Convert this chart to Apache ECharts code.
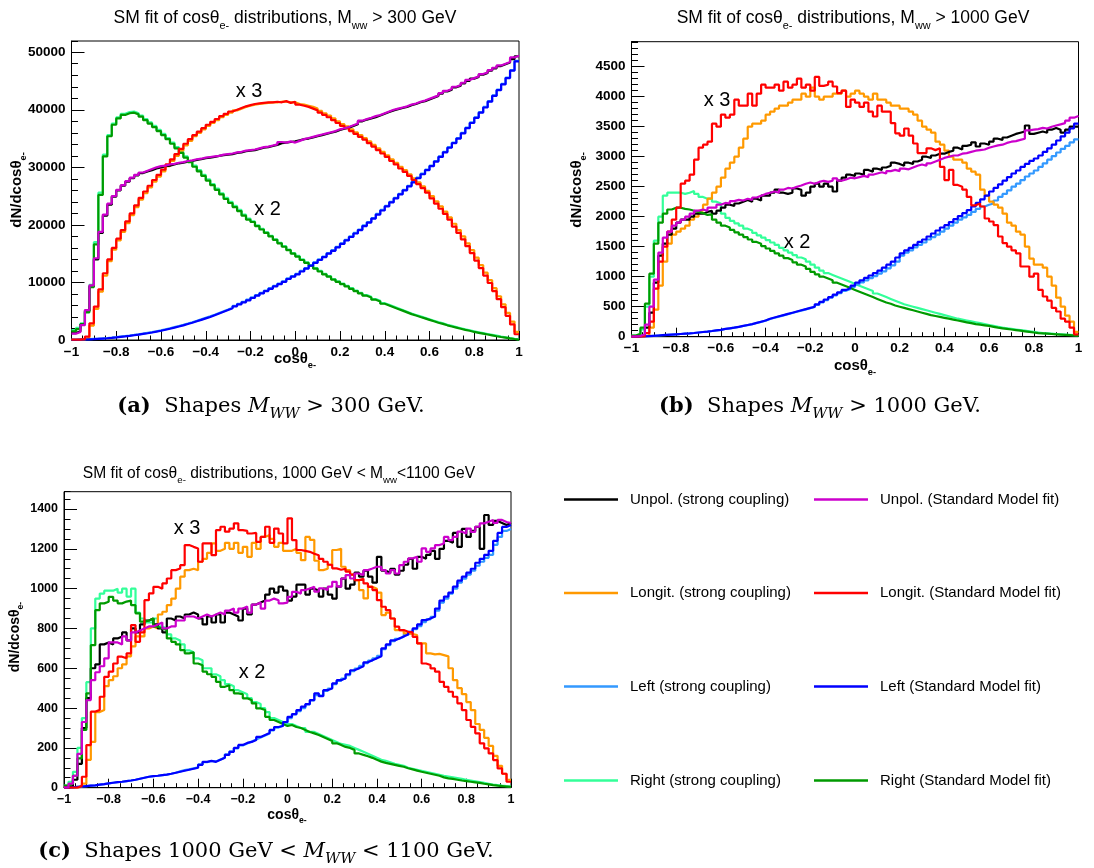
<!DOCTYPE html>
<html><head><meta charset="utf-8">
<script src="https://cdn.jsdelivr.net/npm/echarts@6/dist/echarts.min.js"></script>
<style>html,body{margin:0;padding:0;background:#fff}#c{width:1094px;height:868px}</style>
</head><body><div id="c"></div>
<script>
// ---------- bins: 100 bins of width 0.02 between -1 and 1 ----------
const binLow = -1, binWidth = 0.02;

// ---------- panel (a) M_WW > 300 GeV ----------
const a_unpol_sc = [1200,1500,2700,5100,9300,14000,18600,21600,23500,24900,26000,26800,27500,28100,28600,29000,29300,29500,29800,30000,30200,30300,30500,30700,30800,31000,31100,31300,31400,31600,31700,31800,32000,32100,32200,32300,32500,32600,32800,32900,33000,33200,33400,33500,33700,33900,34200,34300,34400,34500,34700,34900,35000,35200,35400,35600,35800,36000,36200,36500,36700,36900,37200,37500,38000,38300,38500,38700,39000,39300,39600,39900,40100,40300,40500,40800,41000,41300,41500,41800,42100,42400,42800,43200,43500,43900,44200,44600,45000,45400,45700,46100,46400,46800,47200,47600,47900,48200,48800,49300];
const a_unpol_sm = [1100,1400,2600,5200,9500,14200,18800,21800,23700,25000,26100,26900,27600,28200,28700,29100,29400,29700,30000,30200,30300,30500,30600,30800,30900,31100,31200,31400,31500,31700,31800,31900,32000,32200,32300,32400,32600,32700,32900,33000,33100,33300,33500,33600,33800,34000,34400,34300,34500,34300,34600,34900,35100,35300,35500,35700,35900,36100,36300,36600,36800,37000,37300,37600,38100,38400,38600,38900,39100,39400,39700,40000,40200,40400,40600,40900,41100,41400,41600,41900,42200,42500,42900,43300,43600,44000,44300,44700,45200,45500,45800,46200,46500,46900,47300,47700,48000,48300,49100,49400];
const a_long_sc = [30,60,100,400,2500,5400,8400,11200,13700,15700,17300,18800,20300,21700,23100,24400,25500,26500,27500,28400,29300,30200,31100,32000,32900,33800,34600,35400,36000,36600,37200,37700,38200,38700,39100,39500,39900,40200,40500,40700,40900,41000,41100,41200,41300,41300,41400,41400,41300,41300,41000,40900,40700,40500,40200,39800,39400,39000,38500,38000,37500,37100,36600,36100,35600,35100,34500,33900,33300,32700,32100,31400,30800,30100,29500,28800,28100,27400,26700,25900,25000,24100,23200,22300,21300,20200,19100,18000,16800,15600,14300,13000,11700,10400,9000,7600,6200,4700,3200,1400];
const a_long_sm = [50,80,150,600,2900,5800,8800,11600,14000,16000,17600,19100,20600,22000,23400,24700,25800,26800,27800,28700,29600,30500,31400,32300,33200,34100,34900,35600,36200,36800,37400,37900,38400,38900,39300,39700,40000,40300,40600,40800,41000,41100,41200,41300,41300,41400,41300,41500,41200,41400,40900,40700,40500,40200,39900,39500,39100,38700,38200,37700,37200,36800,36300,35800,35300,34800,34200,33600,33000,32400,31800,31100,30500,29800,29200,28500,27800,27100,26400,25600,24600,23700,22800,21900,20900,19700,18600,17500,16300,15100,13800,12500,11200,9900,8500,7100,5700,4200,2700,1000];
const a_left_sc = [60,90,130,160,200,240,290,350,420,500,600,690,780,880,990,1110,1240,1370,1520,1680,1850,2040,2230,2430,2640,2860,3090,3330,3580,3840,4100,4390,4690,4990,5290,5600,5950,6300,6650,7000,7400,7800,8200,8600,9000,9400,9800,10200,10700,11100,11500,12000,12500,13000,13500,14000,14500,15100,15600,16200,16800,17400,18000,18600,19200,19900,20500,21200,21900,22600,23300,24000,24700,25400,26100,26800,27500,28200,28900,29600,30300,31100,31900,32700,33500,34300,35100,36000,36900,37800,38700,39600,40500,41500,42500,43500,44500,45600,46900,48500];
const a_left_sm = [30,60,90,120,150,200,250,300,370,450,550,630,720,820,920,1050,1170,1300,1450,1600,1780,1960,2150,2350,2550,2780,3000,3250,3500,3750,4000,4300,4600,4900,5200,5500,5850,6200,6550,6900,7300,7700,8100,8500,8900,9300,9700,10100,10600,11000,11400,11900,12400,12900,13400,13900,14400,15000,15500,16100,16700,17300,17900,18500,19100,19800,20400,21100,21800,22500,23200,23900,24600,25300,26000,26700,27400,28100,28800,29500,30200,31000,31800,32600,33400,34200,35000,35900,36800,37700,38600,39500,40400,41400,42400,43400,44400,45500,46800,48400];
const a_right_sc = [1700,2100,2900,5000,9600,17000,25600,32200,35600,37600,38700,39300,39600,39700,39400,39000,38400,37800,37200,36500,35800,35100,34300,33500,32700,31900,31100,30300,29500,28700,27900,27100,26300,25500,24700,24000,23300,22600,21800,21100,20600,19900,19300,18700,18100,17500,16900,16300,15700,15100,14600,14000,13500,13000,12500,12000,11500,11100,10600,10200,9800,9400,9000,8600,8200,7800,7500,7100,6800,6400,6100,5800,5500,5200,4900,4600,4350,4100,3850,3600,3350,3100,2900,2650,2450,2250,2050,1850,1700,1500,1350,1200,1050,900,750,600,470,340,220,110];
const a_right_sm = [1500,1900,2700,4800,9200,16600,25200,31900,35400,37400,38500,39100,39400,39500,39200,38800,38200,37600,37000,36300,35600,34900,34100,33300,32500,31700,30900,30100,29300,28500,27700,26900,26100,25300,24500,23800,23100,22400,21600,20900,20500,19800,19200,18600,18000,17400,16800,16200,15600,15000,14500,13900,13400,12900,12400,11900,11400,11000,10500,10100,9700,9300,8900,8500,8100,7700,7400,7000,6700,6300,6000,5700,5400,5100,4800,4500,4250,4000,3750,3500,3250,3000,2800,2550,2350,2150,1950,1750,1600,1400,1250,1100,950,800,650,520,400,280,170,80];

// ---------- panel (b) M_WW > 1000 GeV ----------
const b_unpol_sc = [0,10,30,150,400,900,1350,1550,1700,1800,1900,1950,1950,2000,2050,2050,2080,2100,2050,2100,2150,2200,2180,2220,2250,2280,2250,2300,2270,2350,2350,2400,2450,2400,2380,2400,2470,2450,2350,2400,2500,2550,2500,2550,2500,2420,2600,2650,2700,2680,2720,2700,2780,2750,2800,2780,2820,2850,2900,2880,2850,2900,2880,2920,2950,3000,2980,3020,3050,3050,3080,3100,3150,3120,3180,3200,3240,3170,3220,3200,3250,3300,3280,3320,3350,3380,3400,3420,3520,3380,3400,3420,3400,3450,3480,3450,3400,3450,3500,3500];
const b_unpol_sm = [0,10,40,200,500,950,1400,1650,1750,1850,1900,1950,2000,2050,2100,2120,2100,2150,2150,2200,2230,2220,2260,2280,2270,2300,2280,2320,2350,2380,2400,2420,2400,2450,2480,2470,2500,2520,2550,2570,2550,2580,2600,2580,2600,2640,2600,2620,2650,2640,2660,2680,2660,2700,2720,2740,2720,2760,2780,2760,2800,2790,2820,2850,2870,2850,2890,2920,2950,2980,3000,3020,3020,3050,3060,3080,3100,3110,3120,3150,3170,3190,3200,3230,3250,3260,3280,3300,3440,3450,3460,3480,3470,3500,3520,3540,3560,3600,3650,3680];
const b_long_sc = [0,0,0,20,150,450,850,1250,1550,1700,1750,1800,1850,1950,2000,2100,2200,2300,2400,2500,2650,2800,2900,3000,3150,3300,3500,3550,3550,3600,3700,3750,3800,3850,3850,3900,3950,3950,4050,4000,4150,4000,3950,4000,4000,4050,4050,4100,4000,4050,4100,4050,4000,3950,4050,3950,3950,3900,3850,3850,3800,3800,3750,3700,3600,3500,3450,3400,3250,3200,3100,3000,2950,2950,2900,2800,2750,2700,2450,2350,2250,2200,2150,2050,1900,1850,1750,1700,1500,1300,1200,1200,1150,1000,850,650,500,350,250,80];
const b_long_sm = [0,0,10,60,250,800,1250,1500,1750,1950,2150,2550,2600,2700,2950,3150,3200,3250,3550,3500,3700,3650,3700,3950,3850,3850,4050,3850,4050,4200,4150,4150,4200,4100,4250,4150,4200,4300,4150,4200,4100,4330,4180,4200,4250,4170,4060,4100,3830,3950,3900,3830,3900,3750,3670,3850,3750,3750,3560,3390,3350,3470,3350,3220,3060,3060,3140,3110,3140,2830,2610,2780,2530,2500,2450,2330,2190,2220,2170,1970,1920,1860,1670,1560,1500,1440,1390,1170,1170,1000,1050,780,670,600,480,420,300,250,150,40];
const b_left_sc = [0,3,5,10,15,20,25,30,35,40,45,50,55,62,70,78,86,95,105,115,128,138,150,162,178,192,208,228,248,268,295,315,335,355,375,395,415,435,455,475,495,530,570,610,650,690,725,765,795,830,870,905,940,975,1010,1050,1090,1140,1190,1250,1350,1400,1440,1490,1530,1570,1620,1660,1700,1750,1800,1850,1900,1950,1990,2030,2080,2130,2170,2200,2220,2270,2330,2380,2440,2500,2550,2610,2670,2720,2770,2830,2890,2950,3010,3070,3130,3180,3240,3290];
const b_left_sm = [0,3,5,10,15,20,25,30,35,40,45,50,55,62,70,78,86,95,105,115,130,140,150,165,180,195,210,230,250,270,300,320,340,360,380,400,420,440,460,480,500,540,580,620,660,700,740,780,810,850,900,940,980,1020,1060,1100,1150,1200,1250,1320,1390,1440,1480,1530,1580,1620,1670,1720,1770,1820,1860,1910,1960,2010,2060,2110,2170,2230,2290,2350,2420,2480,2540,2600,2660,2720,2770,2830,2880,2930,2970,3020,3080,3140,3200,3270,3340,3400,3470,3550];
const b_right_sc = [20,40,120,500,1000,1600,2000,2350,2400,2400,2400,2380,2400,2430,2380,2330,2300,2300,2250,2220,2050,1980,1930,1890,1850,1800,1770,1730,1690,1650,1610,1570,1530,1480,1440,1400,1360,1320,1290,1250,1200,1150,1100,1060,1030,1000,970,940,910,880,850,820,790,760,720,690,660,630,600,570,540,520,500,480,460,440,420,400,380,360,340,320,300,285,270,255,240,225,210,195,180,165,150,140,130,120,110,100,90,80,70,60,55,50,45,40,35,30,25,20];
const b_right_sm = [20,50,150,550,1050,1550,1900,2050,2120,2150,2150,2130,2120,2100,2080,2060,2030,2040,1950,1900,1850,1820,1780,1740,1700,1660,1620,1580,1550,1510,1470,1430,1390,1350,1310,1280,1240,1200,1170,1130,1080,1040,1000,970,940,900,870,840,810,780,750,720,690,660,630,600,570,550,520,500,480,460,440,420,400,380,360,345,330,315,300,285,270,255,240,225,210,200,190,180,165,150,140,130,120,110,100,90,80,70,60,55,50,45,40,35,30,25,20,15];

// ---------- panel (c) 1000 GeV < M_WW < 1100 GeV ----------
const c_unpol_sc = [0,10,40,120,300,450,600,620,720,730,720,750,760,780,740,800,780,820,840,850,820,800,780,850,840,860,850,870,880,870,850,820,860,830,870,830,880,870,860,840,900,870,920,930,940,970,1000,980,1010,990,940,960,1020,1020,970,1000,990,960,1000,970,950,1010,1050,1000,1020,1080,1060,1090,1060,1030,1160,1090,1080,1100,1070,1090,1120,1150,1100,1160,1150,1170,1190,1150,1200,1240,1230,1280,1210,1300,1260,1290,1310,1200,1370,1320,1340,1330,1320,1330];
const c_unpol_sm = [0,20,60,170,330,440,540,580,610,650,730,730,720,760,740,780,790,800,810,810,820,830,800,810,810,840,840,860,860,850,860,870,860,870,880,870,890,900,880,900,910,880,920,930,900,940,950,942,926,930,959,984,975,993,1001,1010,985,1001,993,1010,1034,1010,1051,1068,1051,1076,1068,1093,1101,1110,1110,1093,1076,1093,1076,1118,1135,1152,1160,1135,1202,1185,1202,1219,1227,1260,1244,1260,1286,1277,1302,1285,1311,1328,1336,1345,1330,1345,1335,1330];
const c_long_sc = [0,0,0,5,20,140,230,380,390,510,540,560,600,620,660,710,760,760,800,810,800,870,884,917,950,1000,1060,1093,1100,1093,1135,1150,1180,1227,1190,1200,1230,1200,1230,1180,1210,1160,1230,1200,1260,1270,1250,1210,1230,1190,1190,1200,1180,1143,1260,1245,1140,1093,1100,1120,1194,1200,1110,1093,1070,1043,993,951,1010,1000,980,867,880,850,792,790,775,772,767,725,725,675,670,672,666,660,600,540,500,470,430,390,320,290,250,210,160,110,70,40];
const c_long_sm = [0,0,0,10,55,214,382,390,457,557,583,624,658,650,675,817,733,780,942,976,1009,1000,1026,1051,1093,1101,1118,1219,1210,1202,1135,1227,1227,1168,1294,1311,1286,1302,1328,1294,1290,1277,1280,1235,1260,1311,1230,1302,1277,1227,1353,1244,1194,1190,1185,1175,1168,1150,1135,1120,1102,1095,1100,1085,1070,1043,1050,1026,1009,993,942,909,892,850,809,792,783,780,758,725,624,616,599,583,532,507,482,457,424,390,340,306,273,223,198,172,139,97,70,30];
const c_left_sc = [0,2,4,6,8,10,12,15,18,22,25,28,30,33,36,40,45,50,55,58,60,63,66,70,75,82,88,92,97,102,117,128,134,132,142,152,168,182,198,212,222,232,242,252,262,272,288,302,312,328,350,368,385,400,418,438,465,462,486,498,520,536,548,566,586,598,612,626,638,650,662,696,716,736,748,758,770,780,796,812,832,846,858,890,930,950,975,1000,1030,1050,1070,1090,1115,1135,1155,1170,1220,1260,1290,1300];
const c_left_sm = [0,2,4,6,8,10,12,15,18,22,25,28,30,33,36,40,45,50,55,58,60,63,66,70,75,80,85,90,95,100,115,130,135,130,140,150,165,180,200,215,225,230,240,255,265,275,290,305,310,330,356,370,390,407,420,440,474,460,490,500,524,540,550,570,590,600,610,630,640,650,660,700,720,740,750,760,770,783,800,820,842,850,860,900,940,960,980,1010,1040,1060,1080,1100,1130,1150,1170,1190,1240,1280,1310,1320];
const c_right_sc = [10,30,80,200,350,530,800,950,975,990,990,1000,980,1000,960,1000,880,850,830,830,850,810,800,770,750,740,720,690,680,650,640,600,600,570,560,540,520,510,490,480,470,450,430,420,400,380,350,340,330,320,320,310,300,300,280,280,270,260,250,240,230,220,215,210,200,190,180,170,160,150,140,135,128,120,115,110,100,95,90,85,80,75,70,65,60,56,52,48,44,40,36,32,28,24,20,16,13,10,8,5];
const c_right_sm = [10,20,60,147,290,474,716,892,926,934,959,940,926,935,940,917,876,834,840,850,809,800,792,750,733,720,691,675,680,624,615,583,570,557,532,507,515,490,474,470,449,440,424,398,390,356,340,330,320,310,315,305,300,290,280,273,265,255,245,235,223,215,205,200,190,172,165,158,150,140,131,125,120,115,110,105,98,92,86,80,75,70,65,60,52,47,44,40,36,33,30,27,24,20,17,13,10,8,6,4];

// ---------- presentation ----------
const seriesDefs = [
  {key:'right_sc', name:'Right (strong coupling)', color:'#33ff99'},
  {key:'left_sc',  name:'Left (strong coupling)',  color:'#3399ff'},
  {key:'long_sc',  name:'Longit. (strong coupling)', color:'#ff9900'},
  {key:'unpol_sc', name:'Unpol. (strong coupling)', color:'#000000'},
  {key:'right_sm', name:'Right (Standard Model fit)', color:'#009a00'},
  {key:'left_sm',  name:'Left (Standard Model fit)',  color:'#0000ff'},
  {key:'long_sm',  name:'Longit. (Standard Model fit)', color:'#ff0000'},
  {key:'unpol_sm', name:'Unpol. (Standard Model fit)', color:'#cc00cc'}
];
const panelData = [
  {right_sc:a_right_sc,left_sc:a_left_sc,long_sc:a_long_sc,unpol_sc:a_unpol_sc,right_sm:a_right_sm,left_sm:a_left_sm,long_sm:a_long_sm,unpol_sm:a_unpol_sm},
  {right_sc:b_right_sc,left_sc:b_left_sc,long_sc:b_long_sc,unpol_sc:b_unpol_sc,right_sm:b_right_sm,left_sm:b_left_sm,long_sm:b_long_sm,unpol_sm:b_unpol_sm},
  {right_sc:c_right_sc,left_sc:c_left_sc,long_sc:c_long_sc,unpol_sc:c_unpol_sc,right_sm:c_right_sm,left_sm:c_left_sm,long_sm:c_long_sm,unpol_sm:c_unpol_sm}
];
const panels = [
  {left:71.5, top:41,   width:447.5, height:299, ymax:51950, major:10000, minor:2000, font:13.5},
  {left:631.5,top:41.7, width:447,   height:295, ymax:4917,  major:500,   minor:100,  font:13.5},
  {left:64,   top:491.7,width:447,   height:296, ymax:1487,  major:200,   minor:50,   font:12.5}
];
const SANS = 'Liberation Sans', SERIF = 'DejaVu Serif';

function steps(arr){
  const pts = arr.map((v,i)=>[binLow + i*binWidth, v]);
  pts.push([binLow + arr.length*binWidth, arr[arr.length-1]]);
  return pts;
}
const grid=[], xAxis=[], yAxis=[], series=[];
panels.forEach((p,k)=>{
  grid.push({left:p.left, top:p.top, width:p.width, height:p.height, show:true, borderColor:'#000', borderWidth:1, backgroundColor:'transparent', containLabel:false});
  xAxis.push({gridIndex:k, type:'value', min:-1, max:1, interval:0.2,
    axisLine:{show:true, onZero:false, lineStyle:{color:'#000', width:1}},
    axisTick:{show:true, inside:true, length:9, lineStyle:{color:'#000', width:1}},
    minorTick:{show:true, splitNumber:4, length:4.5, lineStyle:{color:'#000', width:1}},
    splitLine:{show:false}, minorSplitLine:{show:false},
    axisLabel:{show:true, showMinLabel:true, showMaxLabel:true, margin:5, color:'#000', fontFamily:SANS, fontWeight:'bold', fontSize:p.font,
      formatter:v=>{const r=Math.round(v*10)/10; return r<0 ? '\u2212'+Math.abs(r) : String(r);}}});
  yAxis.push({gridIndex:k, type:'value', position:'left', min:0, max:p.ymax, interval:p.major,
    axisLine:{show:true, onZero:false, lineStyle:{color:'#000', width:1}},
    axisTick:{show:true, inside:true, length:13, lineStyle:{color:'#000', width:1}},
    splitLine:{show:false},
    axisLabel:{show:true, showMaxLabel:false, margin:6, color:'#000', fontFamily:SANS, fontWeight:'bold', fontSize:p.font,
      formatter:v=>String(Math.round(v))}});
  yAxis.push({gridIndex:k, type:'value', position:'left', offset:0, min:0, max:p.ymax, interval:p.minor,
    axisLine:{show:false, onZero:false}, axisLabel:{show:false}, splitLine:{show:false},
    axisTick:{show:true, inside:true, length:6.5, lineStyle:{color:'#000', width:1}}});
  seriesDefs.forEach(d=>{
    series.push({type:'line', name:d.name, xAxisIndex:k, yAxisIndex:2*k, data:steps(panelData[k][d.key]),
      step:'end', symbol:'none', showSymbol:false, silent:true, clip:true,
      lineStyle:{color:d.color, width:2.2}, itemStyle:{color:d.color}, emphasis:{disabled:true}});
  });
});

// legend: 4 rows x 2 columns
const legendRows = [501, 594.5, 688, 782];
const legendCols = [564, 814];
const legendOrder = [
  ['Unpol. (strong coupling)','Unpol. (Standard Model fit)'],
  ['Longit. (strong coupling)','Longit. (Standard Model fit)'],
  ['Left (strong coupling)','Left (Standard Model fit)'],
  ['Right (strong coupling)','Right (Standard Model fit)']
];
const legend=[];
legendOrder.forEach((row,r)=>row.forEach((nm,c)=>{
  legend.push({data:[nm], left:legendCols[c], top:legendRows[r]-9, padding:0, icon:'rect', itemWidth:54, itemHeight:2.5,
    selectedMode:false, textStyle:{fontFamily:SANS, fontSize:15, color:'#000', padding:[0,0,0,7]}});
}));

// text helpers
function sansText(x,y,text,size,weight,rot){
  return {type:'text', x:x, y:y, rotation:rot||0, silent:true, style:{text:text, fill:'#000', fontFamily:SANS, fontSize:size, fontWeight:weight||'normal',
    lineHeight:size*1.5, align:'center', verticalAlign:'middle',
    rich:{s:{fontSize:size*0.62, fontFamily:SANS, fontWeight:weight||'normal', lineHeight:size*0.62, verticalAlign:'bottom', fill:'#000'}}}};
}
function serifText(x,y,text,size){
  return {type:'text', x:x, y:y, silent:true, style:{text:text, fill:'#000', fontFamily:SERIF, fontSize:size, lineHeight:size*1.4, align:'center', verticalAlign:'middle',
    rich:{b:{fontWeight:'bold', fontFamily:SERIF, fontSize:size},
          i:{fontStyle:'italic', fontFamily:SERIF, fontSize:size},
          si:{fontStyle:'italic', fontFamily:SERIF, fontSize:size*0.7, lineHeight:size*0.7, verticalAlign:'bottom'}}}};
}
const graphic = [
  sansText(285,18,'SM fit of cosθ{s|e-} distributions, M{s|ww} > 300 GeV',17.5),
  sansText(853,18,'SM fit of cosθ{s|e-} distributions, M{s|ww} > 1000 GeV',17.5),
  sansText(279,474,'SM fit of cosθ{s|e-} distributions, 1000 GeV < M{s|ww}<1100 GeV',15.6),
  sansText(295,359,'cosθ{s|e-}',15,'bold'),
  sansText(855,366,'cosθ{s|e-}',15,'bold'),
  sansText(287,815,'cosθ{s|e-}',14,'bold'),
  sansText(17,190,'dN/dcosθ{s|e-}',15,'bold',Math.PI/2),
  sansText(577,190,'dN/dcosθ{s|e-}',15,'bold',Math.PI/2),
  sansText(15,637,'dN/dcosθ{s|e-}',14,'bold',Math.PI/2),
  sansText(249,91,'x 3',20), sansText(267.5,209,'x 2',20),
  sansText(717,100,'x 3',20), sansText(797,242,'x 2',20),
  sansText(187,528,'x 3',20), sansText(252,672,'x 2',20),
  serifText(271,407,'{b|(a)}  Shapes {i|M}{si|WW} > 300 GeV.',21),
  serifText(820,407,'{b|(b)}  Shapes {i|M}{si|WW} > 1000 GeV.',21),
  serifText(266,852,'{b|(c)}  Shapes 1000 GeV < {i|M}{si|WW} < 1100 GeV.',21)
];

const chart = echarts.init(document.getElementById('c'), null, {renderer:'canvas'});
chart.setOption({animation:false, backgroundColor:'#fff', grid, xAxis, yAxis, series, legend, graphic, tooltip:{show:false}});
</script></body></html>
